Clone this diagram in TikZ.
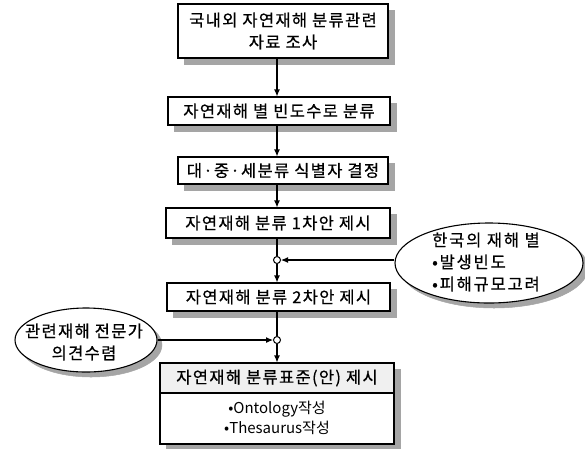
\documentclass[tikz,border=0pt]{standalone}
\usepackage{fontspec}
\setmainfont{Noto Sans CJK KR}
\usetikzlibrary{arrows.meta,shapes.geometric}
\definecolor{shadowgray}{RGB}{165,165,165}
\begin{document}
\begin{tikzpicture}[x=1pt,y=-1pt,
  kfont/.style={font=\fontsize{16.5}{22}\selectfont\addfontfeatures{LetterSpace=8,FakeBold=0.6}},
  stepbox/.style={draw=black,line width=1.1pt,fill=white,rectangle,inner sep=0pt,align=center,kfont},
  oval/.style={draw=black,line width=1.1pt,fill=white,ellipse,inner sep=0pt},
  shbox/.style={draw=shadowgray,fill=shadowgray,line width=0.5pt,rectangle,inner sep=0pt},
  shoval/.style={draw=shadowgray,fill=shadowgray,line width=0.5pt,ellipse,inner sep=0pt},
  junc/.style={draw=black,line width=1pt,fill=white,circle,inner sep=0pt,minimum size=7pt},
  arr/.style={line width=1.1pt,-{Latex[length=7pt,width=6pt]}},
  ln/.style={line width=1.1pt}
]
\useasboundingbox (0,0) rectangle (585,448);

% shadows (drawn first, behind the shapes)
\node[shbox,minimum width=210pt,minimum height=54pt] (s1) at (289,37) {};
\node[shbox,minimum width=222pt,minimum height=28pt] (s2) at (285,117) {};
\node[shbox,minimum width=210pt,minimum height=27pt] (s3) at (289,176.5) {};
\node[shbox,minimum width=224pt,minimum height=30pt] (s4) at (284,229) {};
\node[shbox,minimum width=223pt,minimum height=28pt] (s5) at (284.5,303) {};
\node[shbox,minimum width=234pt,minimum height=81pt] (s6) at (283,409.5) {};
\node[shoval,minimum width=188pt,minimum height=80pt] (sR) at (494,268) {};
\node[shoval,minimum width=142pt,minimum height=64pt] (sL) at (91,345) {};

\node[stepbox,minimum width=210pt,minimum height=54pt] (b1) at (283,31)
  {국내외 자연재해 분류관련\\자료 조사};
\node[stepbox,minimum width=222pt,minimum height=28pt] (b2) at (279,111)
  {자연재해 별 빈도수로 분류};
\node[stepbox,minimum width=210pt,minimum height=27pt] (b3) at (283,170.5)
  {대·중·세분류 식별자 결정};
\node[stepbox,minimum width=224pt,minimum height=30pt] (b4) at (278,223)
  {자연재해 분류 1차안 제시};
\node[junc] (j1) at (277,260) {};
\node[stepbox,minimum width=223pt,minimum height=28pt] (b5) at (278.5,297)
  {자연재해 분류 2차안 제시};
\node[junc] (j2) at (277,340) {};

% box 6 (title + body)
\node[stepbox,minimum width=234pt,minimum height=81pt] (b6) at (277,403.5) {};
\node[draw=black,line width=1.1pt,fill=gray!12,rectangle,inner sep=0pt,
  minimum width=234pt,minimum height=30pt,kfont] (b6t) at (277,378)
  {자연재해 분류표준(안) 제시};
\node[align=center,inner sep=0pt,font=\fontsize{15}{20}\selectfont] (b6b) at (277,418)
  {•Ontology작성\\•Thesaurus작성};

% ellipses
\node[oval,minimum width=188pt,minimum height=80pt] (rE) at (489,263) {};
\node[align=left,inner sep=0pt,anchor=west,
  font=\fontsize{16.5}{22}\selectfont\addfontfeatures{LetterSpace=11,FakeBold=0.6}] (rEt) at (432,262)
  {한국의 재해 별\\•발생빈도\\•피해규모고려};
\node[oval,minimum width=142pt,minimum height=64pt] (lE) at (86,340) {};
\node[align=center,inner sep=0pt,kfont] (lEt) at (84,342)
  {관련재해 전문가\\의견수렴};

% connectors
\draw[arr] (b1.south -| j1) -- (b2.north -| j1);
\draw[arr] (b2.south -| j1) -- (b3.north -| j1);
\draw[arr] (b3.south -| j1) -- (b4.north -| j1);
\draw[ln] (b4.south -| j1) -- (j1);
\draw[arr] (j1) -- (b5.north -| j1);
\draw[ln] (b5.south -| j2) -- (j2);
\draw[arr] (j2) -- (b6t.north -| j2);
\draw[arr] (rE.west |- j1) -- (j1);
\draw[arr] (lE.east |- j2) -- (j2);
\end{tikzpicture}
\end{document}
